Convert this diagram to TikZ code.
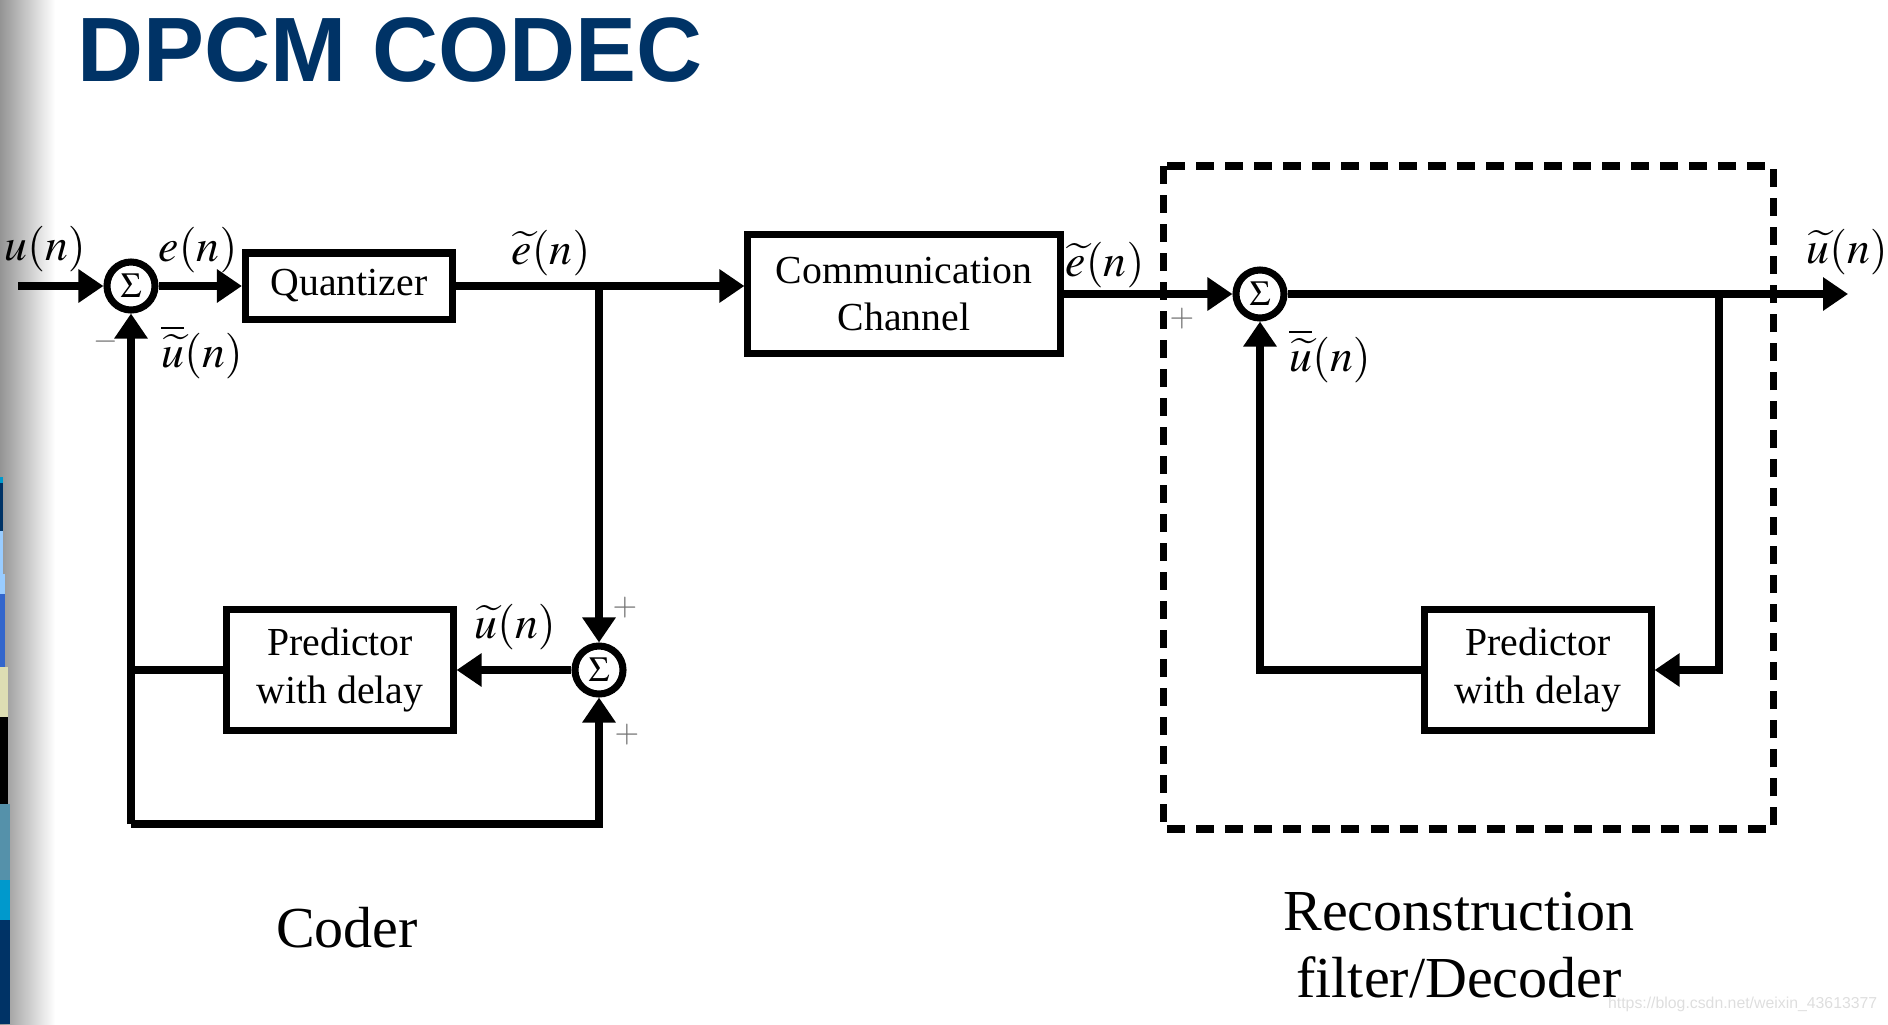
\documentclass[tikz,border=0pt]{standalone}
\usepackage{mathptmx}
\usepackage[no-math]{fontspec}
\setmainfont{Liberation Serif}
\newfontfamily\titlefont{Liberation Sans}
\usetikzlibrary{arrows.meta}
\usetikzlibrary{positioning}
\definecolor{titleblue}{RGB}{0,51,102}
\definecolor{barcyan}{RGB}{0,153,204}
\definecolor{barlight}{RGB}{153,204,255}
\definecolor{barroyal}{RGB}{51,102,204}
\definecolor{barbeige}{RGB}{221,221,179}
\definecolor{barteal}{RGB}{85,145,170}

\tikzset{
  blk/.style={draw, line width=2pt, inner sep=0, align=center,
    font=\fontsize{11.3}{13.6}\selectfont},
  sumnode/.style={draw, circle, line width=2pt, minimum size=0.48cm,
    inner sep=0, font=\fontsize{10}{10}\selectfont},
  wire/.style={line width=2.2pt},
  sig/.style={wire, -{Triangle[length=0.25cm, width=0.32cm]}},
  lbl/.style={inner sep=0, font=\fontsize{13}{13}\selectfont},
  pm/.style={inner sep=0, text=black!55, font=\fontsize{9}{9}\selectfont}
}

\begin{document}
\begin{tikzpicture}[x=0.01cm, y=-0.01cm]
  \useasboundingbox (0,0) rectangle (1888,1024);

  % Slide background on the left
  \shade[left color=black!42, right color=white] (0,0) rectangle (55,1024);
  \fill[barcyan]  (0,477) rectangle (3,483);
  \fill[titleblue] (0,483) rectangle (3,531);
  \fill[barlight] (0,531) rectangle (3,574);
  \fill[barlight] (0,574) rectangle (5,594);
  \fill[barroyal] (0,594) rectangle (5,667);
  \fill[barbeige] (0,667) rectangle (8,717);
  \fill[black]    (0,717) rectangle (8,804);
  \fill[barteal]  (0,804) rectangle (10,880);
  \fill[barcyan]  (0,880) rectangle (10,920);
  \fill[titleblue] (0,920) rectangle (10,1024);

  % Title
  \node[anchor=base west, inner sep=0, text=titleblue,
    font=\titlefont\bfseries\fontsize{26}{26}\selectfont] (title) at (77,81) {DPCM CODEC};

  % Coder blocks
  \node[sumnode] (s1) at (131,286) {$\Sigma$};
  \node[blk, minimum width=2.07cm, minimum height=0.66cm] (quant) at (349,286) {Quantizer};
  \node[sumnode] (s2) at (599,670) {$\Sigma$};
  \node[blk, minimum width=2.26cm, minimum height=1.2cm] (pred1) at (340,670) {Predictor\\with delay};

  % Channel
  \node[blk, minimum width=3.12cm, minimum height=1.19cm] (chan) at (904,294) {Communication\\Channel};

  % Decoder blocks
  \node[sumnode] (s3) at (1260,294) {$\Sigma$};
  \node[blk, minimum width=2.26cm, minimum height=1.2cm] (pred2) at (1538,670) {Predictor\\with delay};
  \draw[line width=2pt, dash pattern=on 0.18cm off 0.11cm] (1163,166) rectangle (1773,829);

  % Free ends and corners
  \coordinate (in) at (18,286);
  \coordinate (out) at (1848,294);
  \coordinate (loopL) at (131,824);
  \coordinate (loopR) at (599,824);
  \coordinate (br2) at (1719,294);

  % Coder connections
  \draw[sig] (in) -- (s1);
  \draw[sig] (s1) -- (quant);
  \draw[sig] (quant) -- (quant.east -| chan.west);
  \draw[sig] (quant.east -| s2) -- (s2);
  \draw[sig] (s2) -- (pred1);
  \draw[wire] (pred1) -- (pred1 -| s1);
  \draw[sig] (loopL) -- (s1);
  \draw[sig, line join=miter] (loopL) -- (loopR) -- (s2);

  % Decoder connections
  \draw[sig] (chan) -- (s3);
  \draw[sig] (s3) -- (out);
  \draw[sig, line join=miter] (br2) -- (br2 |- pred2) -- (pred2);
  \draw[sig, line join=miter] (pred2) -- (pred2 -| s3) -- (s3);

  % Signal labels
  \node[lbl] (lu) at (45,249) {$u(n)$};
  \node[lbl] (le) at (198,250) {$e(n)$};
  \node[lbl] (lub1) at (202,352) {$\overline{\widetilde{u}}(n)$};
  \node[pm] (m1) at (106,342) {$-$};
  \node[lbl] (let1) at (551,253) {$\widetilde{e}(n)$};
  \node[lbl] (lut1) at (515,627) {$\widetilde{u}(n)$};
  \node[pm] (p1) at (625,608) {$+$};
  \node[pm] (p2) at (627,735) {$+$};
  \node[lbl] (let2) at (1105,265) {$\widetilde{e}(n)$};
  \node[pm] (p3) at (1182,319) {$+$};
  \node[lbl] (lub2) at (1330,356) {$\overline{\widetilde{u}}(n)$};
  \node[lbl] (lut2) at (1847,252) {$\widetilde{u}(n)$};

  % Captions
  \node[font=\fontsize{16.5}{19}\selectfont] (coder) at (347,928) {Coder};
  \node[align=center, font=\fontsize{16.5}{19}\selectfont] (decoder) at (1459,945) {Reconstruction\\filter/Decoder};

  % Watermark
  \node[anchor=base east, inner sep=0, text=black!13,
    font=\titlefont\fontsize{4.5}{5}\selectfont] (mark) at (1878,1008) {https://blog.csdn.net/weixin\_43613377};
\end{tikzpicture}
\end{document}
